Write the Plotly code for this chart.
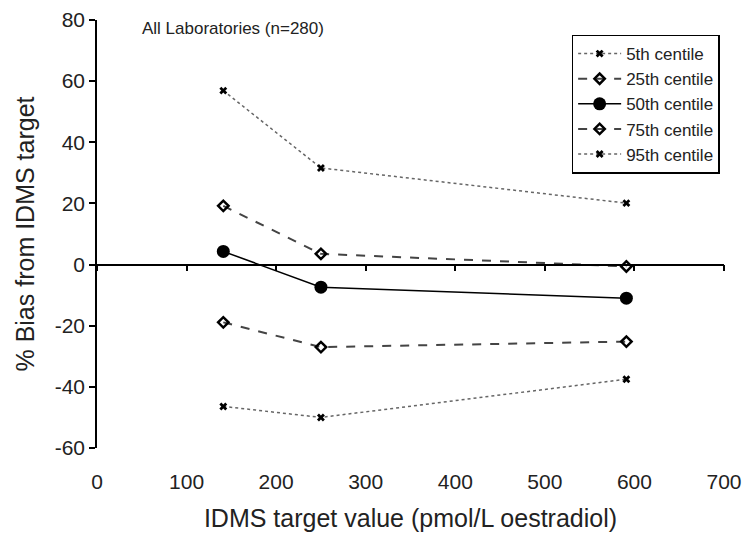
import plotly.graph_objects as go

# Data
targets = [141, 250, 591]  # IDMS target value (pmol/L oestradiol)
series_names = ["5th centile", "25th centile", "50th centile", "75th centile", "95th centile"]
p5 = [-46.4, -50.0, -37.5]
p25 = [-18.9, -27.0, -25.2]
p50 = [4.3, -7.4, -11.0]
p75 = [19.2, 3.5, -0.6]
p95 = [56.9, 31.6, 20.1]
x_ticks = [0, 100, 200, 300, 400, 500, 600, 700]
y_ticks = [-60, -40, -20, 0, 20, 40, 60, 80]

FONT = "Arial, Liberation Sans, Helvetica, sans-serif"

styles = {
    "5th centile": dict(line=dict(color="#666666", width=1.5, dash="dot"),
                        marker=dict(symbol="x", size=7, color="black")),
    "25th centile": dict(line=dict(color="#444444", width=2, dash="dash"),
                         marker=dict(symbol="diamond-open", size=8, color="black",
                                     line=dict(width=2.5, color="black"))),
    "50th centile": dict(line=dict(color="black", width=1.5),
                         marker=dict(symbol="circle", size=13, color="black")),
    "75th centile": dict(line=dict(color="#444444", width=2, dash="dash"),
                         marker=dict(symbol="diamond-open", size=8, color="black",
                                     line=dict(width=2.5, color="black"))),
    "95th centile": dict(line=dict(color="#666666", width=1.5, dash="dot"),
                         marker=dict(symbol="x", size=7, color="black")),
}

values = [p5, p25, p50, p75, p95]

fig = go.Figure()
for name, vals in zip(series_names, values):
    fig.add_trace(go.Scatter(x=targets, y=vals, mode="lines+markers", name=name,
                             **styles[name]))

# invisible trace on the secondary x axis (the axis drawn through y = 0)
fig.add_trace(go.Scatter(x=[None], y=[None], xaxis="x2", showlegend=False,
                         hoverinfo="skip"))

y_min, y_max = -60, 80
zero_pos = (0 - y_min) / (y_max - y_min)

fig.update_layout(
    width=746, height=536,
    margin=dict(l=97, r=22, t=20, b=88),
    paper_bgcolor="white", plot_bgcolor="white",
    font=dict(family=FONT, color="black"),
    showlegend=True,
    legend=dict(x=0.757, y=0.966, xanchor="left", yanchor="top",
                bordercolor="black", borderwidth=1.5, bgcolor="white",
                font=dict(size=17, family=FONT, color="#222"),
                itemwidth=43, tracegroupgap=0),
    xaxis=dict(range=[0, 700], tickvals=x_ticks, ticktext=[str(v) for v in x_ticks],
               showline=False, ticks="",
               showgrid=False, zeroline=False, automargin=False,
               tickfont=dict(size=21, family=FONT, color="#222"),
               ticklabelstandoff=19,
               title=dict(text="IDMS target value (pmol/L oestradiol)",
                          font=dict(size=25, family=FONT, color="#222"), standoff=17)),
    xaxis2=dict(range=[0, 700], tickvals=x_ticks, overlaying="x", anchor="free",
                position=zero_pos, showline=True, linecolor="black", linewidth=1.5,
                ticks="outside", ticklen=6, tickwidth=1.5, tickcolor="black",
                showticklabels=False, showgrid=False, zeroline=False,
                automargin=False),
    yaxis=dict(range=[y_min, y_max], tickvals=y_ticks, ticktext=[str(v) for v in y_ticks],
               showline=True,
               linecolor="black", linewidth=1.5, ticks="outside", ticklen=6,
               tickwidth=1.5, tickcolor="black", showgrid=False, zeroline=False,
               automargin=False,
               tickfont=dict(size=21, family=FONT, color="#222"),
               title=dict(text="% Bias from IDMS target",
                          font=dict(size=25, family=FONT, color="#222"), standoff=13)),
    annotations=[dict(text="All Laboratories (n=280)", xref="paper", yref="paper",
                      x=0.217, y=0.981, xanchor="center", yanchor="middle",
                      showarrow=False, font=dict(size=17, family=FONT, color="#222"))],
)

fig.write_html("out.html")
